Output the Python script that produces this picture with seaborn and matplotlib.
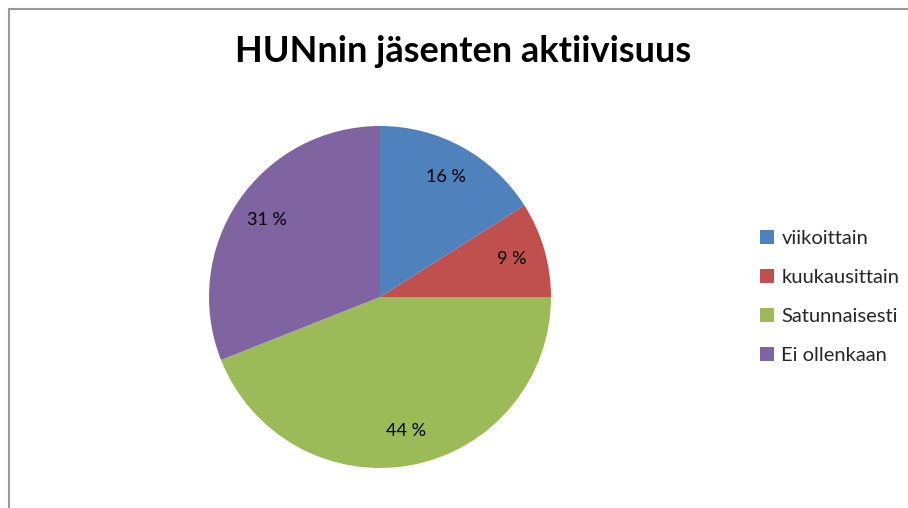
import matplotlib
matplotlib.use("Agg")
import matplotlib.pyplot as plt
import seaborn as sns
from matplotlib.patches import Rectangle

categories = ["viikoittain", "kuukausittain", "Satunnaisesti", "Ei ollenkaan"]
values = [16, 9, 44, 31]
colors = ["#4F81BD", "#C0504D", "#9BBB59", "#8064A2"]
title = "HUNnin jäsenten aktiivisuus"

sns.set_theme(style="white")
plt.rcParams['font.family'] = ['Lato', 'DejaVu Sans']

W, H = 908, 508
fig = plt.figure(figsize=(W / 100, H / 100), dpi=100)
fig.patch.set_facecolor("white")

cx, cy, r = 380, 297, 171
ax = fig.add_axes([(cx - r) / W, (H - cy - r) / H, 2 * r / W, 2 * r / H])
wedges, texts, autotexts = ax.pie(
    values, colors=colors, startangle=90, counterclock=False,
    autopct=lambda p: f"{p:.0f} %", pctdistance=0.8,
    wedgeprops=dict(linewidth=0), textprops=dict(fontsize=13, color="black"))
ax.set_xlim(-1, 1)
ax.set_ylim(-1, 1)
ax.set_aspect("auto")
ax.axis("off")

fig.text(463 / W, 1 - 52 / H, title, ha="center", va="center",
         fontsize=26, fontweight="bold", color="black")

leg = fig.legend(wedges, categories, loc="center left",
                 bbox_to_anchor=(742 / W, 1 - 297 / H), frameon=False,
                 fontsize=14.5, handlelength=0.7, handleheight=0.7,
                 handletextpad=0.35, labelspacing=1.08)

fig.patches.append(Rectangle((8.5 / W, -0.1), 2, 1 - 9.5 / H + 0.1,
                             transform=fig.transFigure, fill=False,
                             edgecolor="#999999", linewidth=1.5))

fig.savefig("out.png", dpi=100, facecolor="white")
